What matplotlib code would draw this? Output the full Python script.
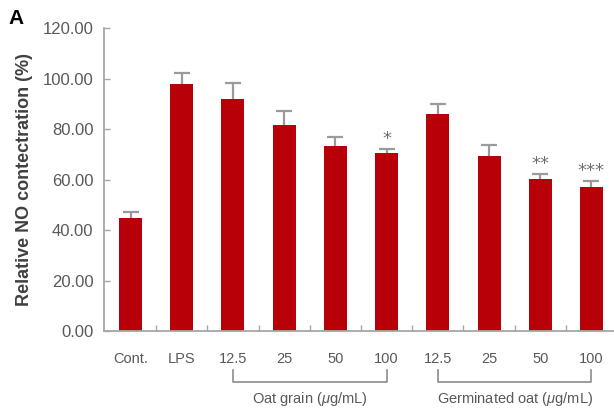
import matplotlib
matplotlib.use("Agg")
import matplotlib.pyplot as plt
import matplotlib.transforms as mtransforms

# Relative NO production after LPS stimulation, with oat extracts
categories = ["Cont.", "LPS", "12.5", "25", "50", "100", "12.5", "25", "50", "100"]
values = [45.0, 97.9, 92.0, 81.7, 73.4, 70.6, 86.1, 69.4, 60.3, 57.2]
errors = [2.2, 4.4, 6.1, 5.3, 3.3, 1.6, 4.0, 4.2, 2.1, 2.4]
significance = ["", "", "", "", "", "*", "", "", "**", "***"]
y_ticks = [0, 20, 40, 60, 80, 100, 120]
groups = [("Oat grain ($\\mu$g/mL)", 2, 5), ("Germinated oat ($\\mu$g/mL)", 6, 9)]

bar_color = "#b70008"
axis_grey = "#a6a6a6"
text_grey = "#595959"
font = "Liberation Sans"
plt.rcParams["mathtext.fontset"] = "custom"
plt.rcParams["mathtext.it"] = "Liberation Sans:italic"
plt.rcParams["mathtext.rm"] = "Liberation Sans"

fig = plt.figure(figsize=(6.14, 4.11), dpi=100)
ax = fig.add_axes([0.170, 0.194, 0.835, 0.738])

x = list(range(len(categories)))
ax.bar(x, values, width=0.45, color=bar_color, zorder=2)
# upper error bars only
_, caps, _ = ax.errorbar(x, values, yerr=[[0] * len(errors), errors], fmt="none",
                         ecolor="#9a9a9a", elinewidth=1.6, capsize=5.5, capthick=1.6,
                         zorder=1)
caps[0].set_visible(False)

for xi, v, e, s in zip(x, values, errors, significance):
    if s:
        ax.text(xi, v + e + 0.3, s, ha="center", va="bottom", fontsize=13,
                color="#707070", family="DejaVu Sans")

ax.set_xlim(-0.51, 9.5)
ax.set_ylim(0, 120)
ax.set_yticks(y_ticks)
ax.set_yticklabels([f"{t:.2f}" for t in y_ticks], family=font, fontsize=12, color=text_grey)
ax.set_xticks(x)
ax.set_xticklabels(categories, family=font, fontsize=10.5, color=text_grey)
ax.set_xticks([i + 0.5 for i in range(len(categories) - 1)], minor=True)

ax.tick_params(axis="y", direction="in", length=4, width=1, color=axis_grey, pad=8)
ax.tick_params(axis="x", which="major", length=0, pad=15)
ax.tick_params(axis="x", which="minor", direction="in", length=4, width=1, color=axis_grey)

for side in ("top", "right"):
    ax.spines[side].set_visible(False)
for side in ("left", "bottom"):
    ax.spines[side].set_color(axis_grey)
    ax.spines[side].set_linewidth(1.3)

ax.set_ylabel("Relative NO contectration (%)", family=font, fontsize=13,
              fontweight="bold", color="#404040", labelpad=7)

# Group brackets below the dose labels
trans = mtransforms.blended_transform_factory(ax.transData, fig.transFigure)
y_top = 1 - 370 / 411
y_bot = 1 - 382 / 411
for label, start, end in groups:
    ax.plot([start, start, end, end], [y_top, y_bot, y_bot, y_top], transform=trans,
            color="#8c8c8c", lw=1.2, clip_on=False)
    ax.text((start + end) / 2, 1 - 399 / 411, label, transform=trans, ha="center",
            va="center", fontsize=10.5, color=text_grey, family=font)

fig.text(8 / 614, 1 - 18 / 411, "A", fontsize=15, fontweight="bold", family=font,
         ha="left", va="center", color="black")

fig.savefig("out.png", dpi=100)
